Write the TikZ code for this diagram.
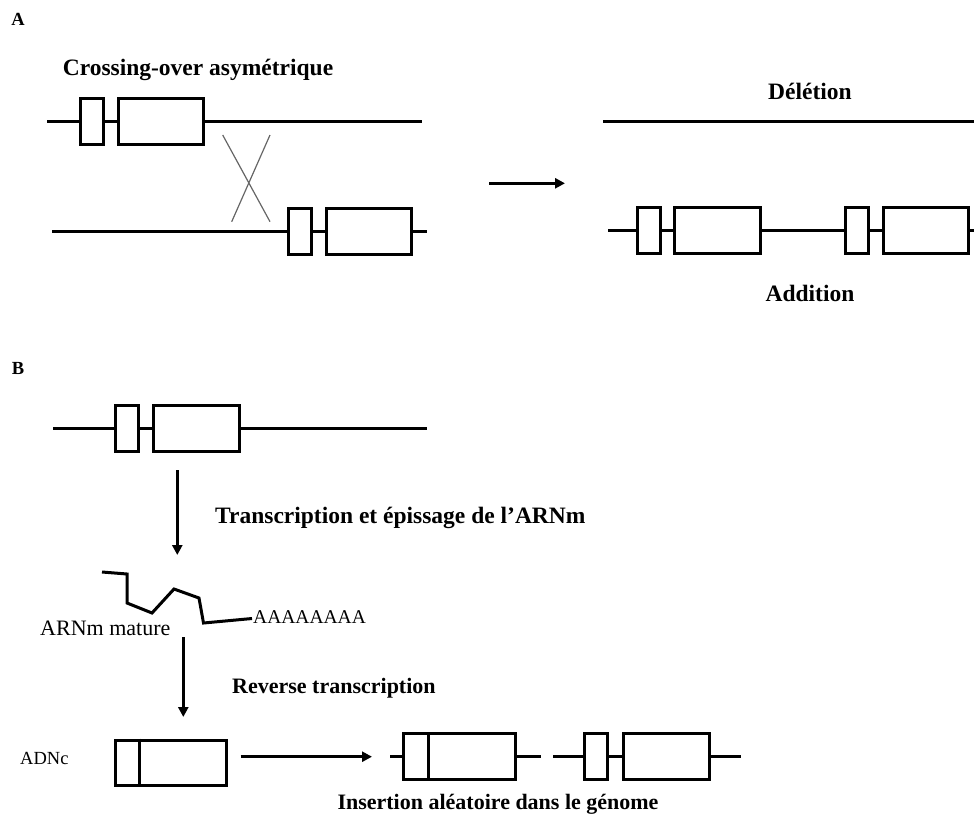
\documentclass[tikz,border=0pt]{standalone}
\usepackage{fontspec}
\setmainfont{Liberation Serif}
\usetikzlibrary{arrows.meta}
\begin{document}
\begin{tikzpicture}[x=1pt,y=-1pt,
  exon/.style={draw, line width=3pt, fill=white, inner sep=0pt, minimum height=46pt},
  dna/.style={line width=3pt, line cap=butt},
  arr/.style={line width=3pt, -{Triangle[length=10pt,width=10pt]}},
  xline/.style={line width=1.2pt, draw=black!60},
  lbl/.style={font=\fontsize{23.5}{28}\selectfont\bfseries, inner sep=0pt},
  lblsmall/.style={font=\fontsize{22}{26}\selectfont\bfseries, inner sep=0pt},
  plain/.style={font=\fontsize{22}{26}\selectfont, inner sep=0pt},
  panel/.style={font=\fontsize{18.5}{22}\selectfont\bfseries, inner sep=0pt}
]
\useasboundingbox (0,0) rectangle (974,836);

% ---------- A : unequal crossing-over ----------
\node[panel] (pA) at (18,19) {A};
\node[lbl] (tCross) at (198,70) {Crossing-over asymétrique};

% upper chromatid
\coordinate (u0) at (47,121.5);
\coordinate (u1) at (422,121.5);
\node[exon, minimum width=23pt] (a1) at (92,121.5) {};
\node[exon, minimum width=85pt] (a2) at (161,121.5) {};
\draw[dna] (u0) -- (a1.west) (a1.east) -- (a2.west) (a2.east) -- (u1);

% lower chromatid
\coordinate (l0) at (52,231);
\coordinate (l1) at (427,231);
\node[exon, minimum width=23pt] (b1) at (300.3,231) {};
\node[exon, minimum width=85pt] (b2) at (369,231) {};
\draw[dna] (l0) -- (b1.west) (b1.east) -- (b2.west) (b2.east) -- (l1);

% crossing
\coordinate (x1) at (222.7,135);
\coordinate (x2) at (270,221.7);
\coordinate (x3) at (270,135);
\coordinate (x4) at (231.7,221.7);
\draw[xline] (x1) -- (x2) (x3) -- (x4);

% result arrow
\coordinate (r0) at (489,183.3);
\coordinate (r1) at (565,183.3);
\draw[arr] (r0) -- (r1);

% deletion product
\node[lbl] (tDel) at (810,91) {Délétion};
\coordinate (d0) at (603,121);
\coordinate (d1) at (974,121);
\draw[dna] (d0) -- (d1);

% addition product
\coordinate (ad0) at (608,230.5);
\coordinate (ad1) at (976,230.5);
\node[exon, minimum width=23pt, minimum height=46pt] (c1) at (649,230.5) {};
\node[exon, minimum width=86pt, minimum height=46pt] (c2) at (717.8,230.5) {};
\node[exon, minimum width=23pt] (c3) at (857,230.5) {};
\node[exon, minimum width=85pt] (c4) at (925.8,230.5) {};
\draw[dna] (ad0) -- (c1.west) (c1.east) -- (c2.west) (c2.east) -- (c3.west)
           (c3.east) -- (c4.west) (c4.east) -- (ad1);
\node[lbl] (tAdd) at (810,293) {Addition};

% ---------- B : retrotransposition ----------
\node[panel] (pB) at (18,368) {B};

\coordinate (g0) at (53,428);
\coordinate (g1) at (427,428);
\node[exon, minimum width=23pt, minimum height=46pt] (e1) at (127,428) {};
\node[exon, minimum width=86pt, minimum height=46pt] (e2) at (196.3,428) {};
\draw[dna] (g0) -- (e1.west) (e1.east) -- (e2.west) (e2.east) -- (g1);

\coordinate (v0) at (177.3,470);
\coordinate (v1) at (177.3,555);
\draw[arr, line width=2.5pt] (v0) -- (v1);
\node[lbl, anchor=west] (tTrans) at (215,518) {Transcription et épissage de l’ARNm};

% mature mRNA
\coordinate (m0) at (102,572);
\coordinate (m1) at (252,618.5);
\draw[dna, line join=miter] (m0) -- (127,574) -- (127,603) -- (152,613) -- (174,589)
   -- (199,598) -- (203.5,623) -- (m1);
\node[font=\fontsize{19.5}{23}\selectfont, inner sep=0pt, anchor=west] (polyA) at (253,617) {AAAAAAAA};
\node[plain, anchor=west] (tMat) at (40,628) {ARNm mature};

\coordinate (w0) at (183.3,637);
\coordinate (w1) at (183.3,717);
\draw[arr, line width=2.5pt] (w0) -- (w1);
\node[lblsmall, anchor=west] (tRev) at (232,688) {Reverse transcription};

% cDNA
\node[font=\fontsize{18.5}{22}\selectfont, inner sep=0pt, anchor=west] (tADNc) at (20,758) {ADNc};
\node[exon, minimum width=111pt, minimum height=45pt] (cd) at (171.2,762.5) {};
\draw[line width=3pt] ([xshift=-31.9pt]cd.north) -- ([xshift=-31.9pt]cd.south);

\coordinate (h0) at (240.7,756.7);
\coordinate (h1) at (372,756.7);
\draw[arr] (h0) -- (h1);

% inserted copies
\coordinate (k0) at (390,756.5);
\coordinate (k1) at (541,756.5);
\node[exon, minimum width=112pt] (ins) at (459.2,756.5) {};
\draw[line width=3pt] ([xshift=-30.9pt]ins.north) -- ([xshift=-30.9pt]ins.south);
\draw[dna] (k0) -- (ins.west) (ins.east) -- (k1);

\coordinate (n0) at (553,756.5);
\coordinate (n1) at (741,756.5);
\node[exon, minimum width=23pt] (f1) at (596.3,756.5) {};
\node[exon, minimum width=86pt] (f2) at (666.2,756.5) {};
\draw[dna] (n0) -- (f1.west) (f1.east) -- (f2.west) (f2.east) -- (n1);

\node[lblsmall] (tIns) at (498,804) {Insertion aléatoire dans le génome};
\end{tikzpicture}
\end{document}
